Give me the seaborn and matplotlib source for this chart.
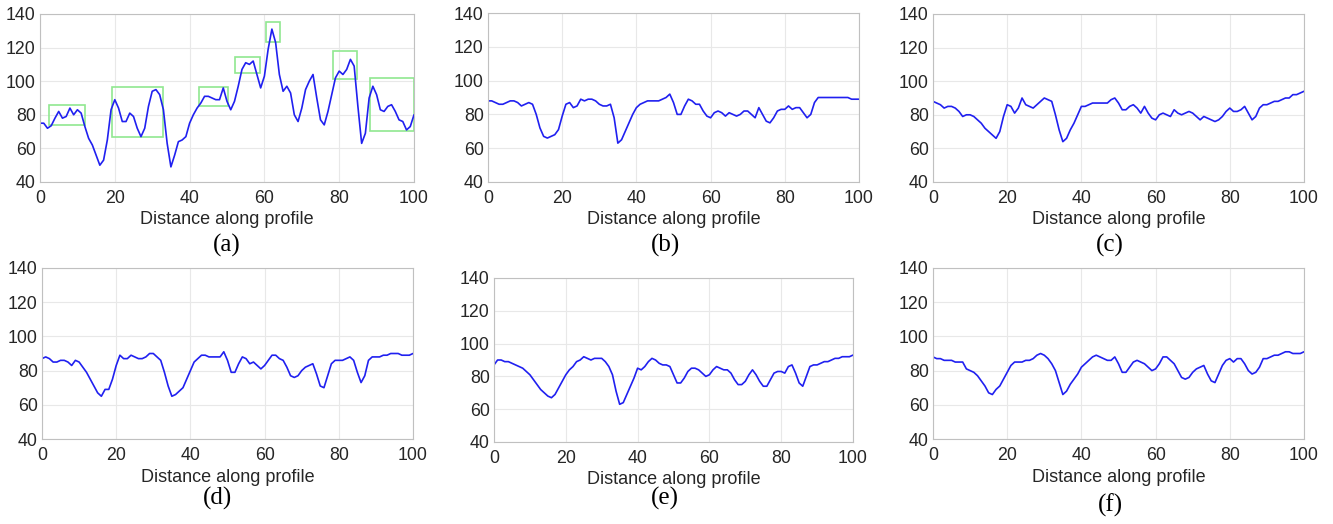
import matplotlib
matplotlib.use('Agg')
import matplotlib.pyplot as plt
import seaborn as sns
import numpy as np
import pandas as pd
from matplotlib.patches import Rectangle

# profile values, one per unit of distance
dist = list(range(101))

prof_a = [75, 75, 72, 73.5, 78, 82, 78, 79, 84, 80, 83, 81, 73, 66, 62, 56, 50, 53, 65, 83,
          89, 84, 76, 76, 81, 79, 72, 67, 72, 85, 94, 95, 92, 83, 63, 49, 56, 64, 65, 67,
          75, 80, 84, 87, 91, 91, 90, 89, 89, 96, 88, 83, 88, 97, 107, 111, 110, 112, 104, 96,
          103, 119, 131, 123, 104, 94, 97, 93, 80, 76, 84, 95, 100, 104, 90, 77, 74, 82, 92, 102,
          106, 104, 107, 113, 109, 85, 63, 69, 90, 97, 92, 83, 82, 85, 86, 82, 77, 76, 71, 73, 80]
prof_b = [88, 88, 87, 86, 86, 87, 88, 88, 87, 85, 86, 87, 86, 80, 72, 67, 66, 67, 68, 71,
          79, 86, 87, 84, 85, 89, 88, 89, 89, 88, 86, 85, 85, 86, 78, 63, 65, 70, 75, 80,
          84, 86, 87, 88, 88, 88, 88, 89, 90, 92, 87, 80, 80, 85, 89, 88, 86, 86, 82, 79,
          78, 81, 82, 81, 79, 81, 80, 79, 80, 82, 82, 80, 78, 84, 80, 76, 75, 78, 82, 83,
          83, 85, 83, 84, 84, 81, 78, 80, 87, 90, 90, 90, 90, 90, 90, 90, 90, 90, 89, 89, 89]
prof_c = [88, 87, 86, 84, 85, 85, 84, 82, 79, 80, 80, 79, 77, 75, 72, 70, 68, 66, 70, 79,
          86, 85, 81, 84, 90, 86, 85, 84, 86, 88, 90, 89, 88, 80, 71, 64, 66, 71, 75, 80,
          85, 85, 86, 87, 87, 87, 87, 87, 89, 90, 87, 83, 83, 85, 86, 84, 81, 85, 81, 78,
          77, 80, 81, 80, 79, 83, 81, 80, 81, 82, 81, 79, 77, 79, 78, 77, 76, 77, 79, 82,
          84, 82, 82, 83, 85, 81, 77, 79, 84, 86, 86, 87, 88, 88, 89, 90, 90, 92, 92, 93, 94]
prof_d = [87, 88, 87, 85, 85, 86, 86, 85, 83, 86, 85, 82, 79, 75, 71, 67, 65, 69, 69, 75,
          83, 89, 87, 87, 89, 88, 87, 87, 88, 90, 90, 88, 86, 79, 71, 65, 66, 68, 70, 75,
          80, 85, 87, 89, 89, 88, 88, 88, 88, 91, 86, 79, 79, 84, 88, 87, 84, 85, 83, 81,
          83, 86, 89, 89, 87, 86, 82, 77, 76, 77, 80, 82, 83, 84, 78, 71, 70, 77, 84, 86,
          86, 86, 87, 88, 86, 79, 73, 77, 86, 88, 88, 88, 89, 89, 90, 90, 90, 89, 89, 89, 90]
prof_e = [87, 90, 90, 89, 89, 88, 87, 86, 85, 83, 81, 78, 75, 72, 70, 68, 67, 69, 73, 77,
          81, 84, 86, 89, 90, 92, 91, 90, 91, 91, 91, 89, 86, 81, 71, 63, 64, 69, 74, 79,
          85, 84, 86, 89, 91, 90, 88, 87, 87, 86, 81, 76, 76, 79, 83, 85, 85, 84, 82, 80,
          81, 84, 86, 85, 84, 84, 82, 78, 75, 75, 77, 81, 84, 81, 77, 74, 74, 78, 82, 83,
          83, 82, 86, 87, 82, 76, 74, 80, 86, 87, 87, 88, 89, 89, 90, 91, 91, 92, 92, 92, 93]
prof_f = [88, 87, 87, 86, 86, 86, 85, 85, 85, 81, 80, 79, 77, 74, 71, 67, 66, 69, 71, 75,
          79, 83, 85, 85, 85, 86, 86, 87, 89, 90, 89, 87, 84, 80, 73, 66, 68, 72, 75, 78,
          82, 84, 86, 88, 89, 88, 87, 86, 86, 88, 84, 79, 79, 82, 85, 86, 85, 84, 82, 80,
          81, 84, 88, 88, 86, 84, 80, 76, 75, 76, 79, 81, 82, 83, 78, 74, 73, 78, 83, 86,
          87, 85, 87, 87, 84, 80, 78, 79, 82, 87, 87, 88, 89, 89, 90, 91, 91, 90, 90, 90, 91]

# highlighted regions in panel (a): x0, x1, y0, y1
box_x0 = [2.5, 19.3, 42.6, 52.2, 60.4, 78.3, 88.2]
box_x1 = [12.0, 32.8, 50.2, 58.7, 64.3, 84.8, 100.1]
box_y0 = [74.2, 67.0, 85.5, 104.6, 123.5, 101.6, 70.4]
box_y1 = [85.7, 96.3, 96.3, 114.5, 135.2, 118.0, 102.0]

panel_tags = ['(a)', '(b)', '(c)', '(d)', '(e)', '(f)']
profiles = [prof_a, prof_b, prof_c, prof_d, prof_e, prof_f]

sns.set_style('white')
plt.rcParams['font.family'] = ['Liberation Sans', 'DejaVu Sans']

W, H = 1333, 524
fig = plt.figure(figsize=(W / 100, H / 100), dpi=100)

# axes boxes in pixels: left, right, top, bottom
boxes = [(40, 414, 14, 182), (488, 859, 13, 182), (933, 1304, 14, 182),
         (42, 413, 268, 439), (494, 853, 278, 442), (933, 1304, 268, 439)]
tag_pos = [(227, 245), (665, 245), (1110, 245), (218, 498), (665, 498), (1110, 505)]

for i, (l, r, t, b) in enumerate(boxes):
    ax = fig.add_axes([l / W, (H - b) / H, (r - l) / W, (b - t) / H])
    df = pd.DataFrame({'dist': dist, 'val': profiles[i]})
    sns.lineplot(data=df, x='dist', y='val', ax=ax, color='#2020f0', linewidth=1.2)
    ax.set_xlim(0, 100)
    ax.set_ylim(40, 140)
    ax.set_xticks([0, 20, 40, 60, 80, 100])
    ax.set_yticks([40, 60, 80, 100, 120, 140])
    ax.grid(True, color='#e8e8e8', linewidth=0.8)
    ax.set_axisbelow(True)
    for s in ax.spines.values():
        s.set_color('#c0c0c0')
        s.set_linewidth(0.8)
    ax.tick_params(direction='in', length=2, width=0.6, color='#c0c0c0',
                   labelsize=12.8, labelcolor='#262626')
    ax.tick_params(axis='x', pad=6)
    ax.tick_params(axis='y', pad=3)
    ax.set_xlabel('Distance along profile', fontsize=13, color='#262626', labelpad=3)
    ax.set_ylabel('')
    if i == 0:
        for k in range(len(box_x0)):
            ax.add_patch(Rectangle((box_x0[k], box_y0[k]), box_x1[k] - box_x0[k],
                                   box_y1[k] - box_y0[k], fill=False,
                                   edgecolor='#90e890', linewidth=1.2, clip_on=False))
    tx, ty = tag_pos[i]
    fig.text(tx / W, 1 - ty / H, panel_tags[i], ha='center', va='center',
             fontsize=18, family='Liberation Serif', color='black')

fig.savefig('out.png', dpi=100, facecolor='white')
